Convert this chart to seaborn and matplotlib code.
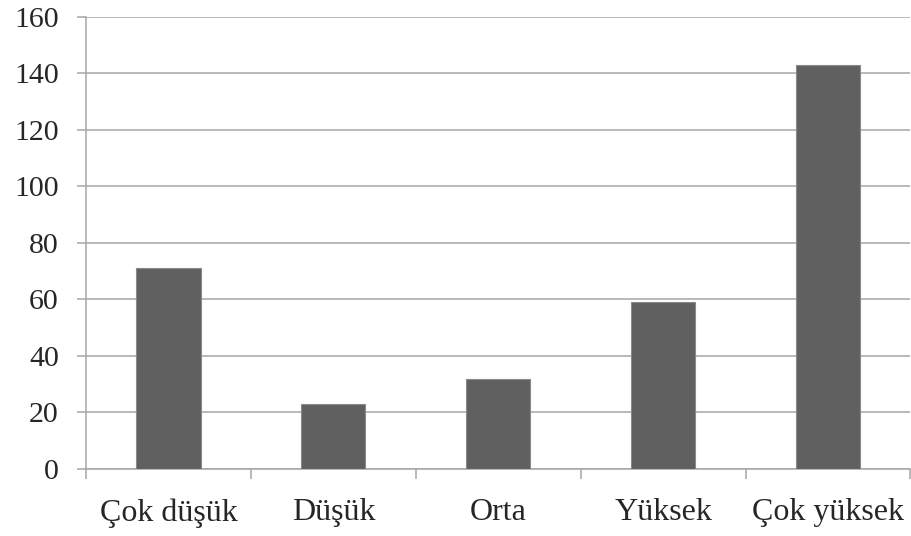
import matplotlib
matplotlib.use("Agg")
import matplotlib.pyplot as plt
import seaborn as sns
import pandas as pd
import numpy as np

categories = ["Çok düşük", "Düşük", "Orta", "Yüksek", "Çok yüksek"]
counts = [71, 23, 32, 59, 143]
y_ticks = [0, 20, 40, 60, 80, 100, 120, 140, 160]

df = pd.DataFrame({"category": categories, "count": counts})

sns.set_style("white")
plt.rcParams["font.family"] = ["Liberation Serif", "DejaVu Serif"]

grid_color = "#a6a6a6"
bar_color = "#606060"

fig = plt.figure(figsize=(9.11, 5.36), dpi=100)
ax = fig.add_axes([0.0944, 0.125, 0.905, 0.844])

sns.barplot(data=df, x="category", y="count", color=bar_color, width=0.39,
            edgecolor="#8a8a8a", linewidth=0.8, saturation=1, ax=ax, zorder=3)

ax.set_ylim(0, 160)
ax.set_xlim(-0.5, len(categories) - 0.5)
ax.set_yticks(y_ticks)
ax.set_yticklabels([str(v) for v in y_ticks])
ax.yaxis.grid(True, color=grid_color, linewidth=1.1, zorder=0)
ax.set_axisbelow(True)
ax.set_xlabel("")
ax.set_ylabel("")

for side in ["top", "right"]:
    ax.spines[side].set_visible(False)
for side in ["left", "bottom"]:
    ax.spines[side].set_color(grid_color)
    ax.spines[side].set_linewidth(1.1)

# y ticks: short gray stubs to the left of the axis
ax.tick_params(axis="y", which="major", length=6.5, width=1.1, color=grid_color,
               pad=13, labelsize=21.5, left=True)
# x ticks: category labels without marks, boundary marks as minor ticks
ax.tick_params(axis="x", which="major", length=0, pad=21, labelsize=23, bottom=True)
ax.set_xticks(np.arange(-0.5, len(categories), 1.0), minor=True)
ax.tick_params(axis="x", which="minor", length=7.5, width=1.1, color=grid_color,
               direction="out", bottom=True)

fig.savefig("out.png", dpi=100, facecolor="white")
